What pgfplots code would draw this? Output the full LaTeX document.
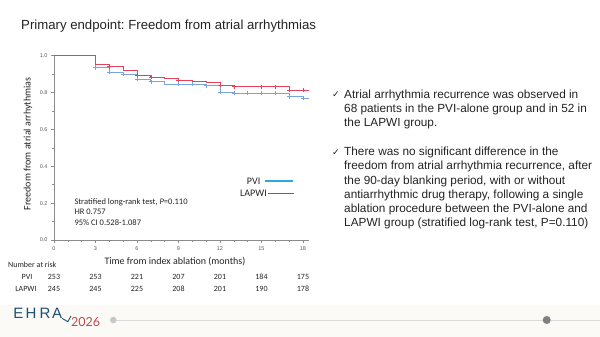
\documentclass[border=0pt]{standalone}
\usepackage{pgfplots}
\pgfplotsset{compat=1.18}
\usepackage{fontspec}
\setmainfont{Carlito}
\newfontfamily\arial{Liberation Sans}
\newfontfamily\dejavu{DejaVu Sans}
\newfontfamily\lato{Lato}
\frenchspacing
\definecolor{redc}{RGB}{232,64,90}
\definecolor{bluec}{RGB}{120,165,225}
\definecolor{legblue}{RGB}{41,170,226}
\definecolor{lapwiline}{RGB}{228,45,55}
\definecolor{axisgray}{RGB}{140,140,140}
\definecolor{ticklab}{RGB}{90,90,90}
\definecolor{txt}{RGB}{35,35,35}
\definecolor{footbg}{RGB}{251,250,247}
\definecolor{ehra}{RGB}{30,80,112}
\definecolor{ehrared}{RGB}{192,72,76}
\definecolor{lgray}{RGB}{218,218,218}
\definecolor{dotl}{RGB}{200,200,200}
\definecolor{dotd}{RGB}{128,128,128}
\begin{document}
\begin{tikzpicture}
\path[use as bounding box] (0,0) rectangle (600bp,337bp);
\fill[footbg] (0,0) rectangle (600bp,32bp);
% title
\node[anchor=base west, inner sep=0pt, text=txt, font=\arial\fontsize{13.2bp}{15bp}\selectfont] at (21bp,307.7bp) {Primary endpoint: Freedom from atrial arrhythmias};
\begin{axis}[
  at={(54bp,97bp)}, anchor=south west, scale only axis,
  width=254.5bp, height=184.3bp,
  xmin=0, xmax=18.4, ymin=0, ymax=1,
  axis x line*=bottom, axis y line*=left,
  axis line style={draw=axisgray, line width=0.5pt},
  xtick={0,3,6,9,12,15,18}, minor xtick={1,2,4,5,7,8,10,11,13,14,16,17},
  ytick={0,0.2,0.4,0.6,0.8,1}, minor ytick={0.1,0.3,0.5,0.7,0.9},
  tick align=outside, major tick length=3bp, minor tick length=2bp,
  every tick/.style={draw=axisgray, line width=0.5pt},
  ticklabel style={font=\arial\fontsize{5.5bp}{6bp}\selectfont, text=ticklab},
  /pgf/number format/assume math mode=true,
  yticklabel style={/pgf/number format/.cd, fixed, fixed zerofill, precision=1},
  clip=false,
]
\addplot[const plot, bluec, line width=0.8pt] coordinates {(0,1)(3,0.935)(4,0.910)(5,0.899)(6,0.872)(7,0.859)(8,0.846)(11,0.837)(12,0.801)(13,0.796)(17,0.778)(18,0.769)(18.4,0.769)};
\addplot[const plot, redc, line width=0.8pt] coordinates {(0,1)(3,0.953)(4,0.940)(5,0.922)(6,0.895)(7,0.883)(8,0.877)(9,0.868)(10,0.863)(11,0.855)(12,0.841)(13,0.832)(17,0.814)(18.4,0.814)};
\addplot[only marks, mark=+, mark size=2bp, bluec, line width=0.6pt] coordinates {(3,0.935)(4,0.910)(5,0.899)(6,0.872)(7,0.859)(9,0.846)(10,0.846)(11,0.837)(12,0.801)(13,0.796)(14,0.796)(15,0.796)(16,0.796)(17,0.778)(18,0.769)};
\addplot[only marks, mark=+, mark size=2bp, redc, line width=0.6pt] coordinates {(4,0.940)(6,0.895)(7,0.883)(9,0.868)(12,0.841)(13,0.832)(15,0.832)(16,0.832)(17,0.814)(18,0.814)};
\end{axis}
% legend text
\node[anchor=base east, inner sep=0pt, text=txt, font=\fontsize{10bp}{12bp}\selectfont] at (260.5bp,152.5bp) {PVI};
\node[anchor=base east, inner sep=0pt, text=txt, font=\fontsize{10bp}{12bp}\selectfont] at (267bp,140bp) {LAPWI};
% stats
\begin{scope}[every node/.style={anchor=base west, inner sep=0pt, text=txt, font=\fontsize{8.5bp}{10bp}\selectfont}]
\node at (74.3bp,132.2bp) {Stratified long-rank test, \textit{P}=0.110};
\node at (74.3bp,122.2bp) {HR 0.757};
\node at (74.3bp,111.2bp) {95\% CI 0.528-1.087};
\end{scope}
% axis titles
\node[anchor=base, inner sep=0pt, text=txt, font=\fontsize{10bp}{12bp}\selectfont] at (175bp,72bp) {Time from index ablation (months)};
\node[rotate=90, inner sep=0pt, text=txt, font=\fontsize{10bp}{12bp}\selectfont] at (28bp,193bp) {Freedom from atrial arrhythmias};
% number at risk
\begin{scope}[every node/.style={anchor=base, inner sep=0pt, text=txt, font=\fontsize{8bp}{10bp}\selectfont}]
\node[anchor=base west] at (8bp,69bp) {Number at risk};
\node at (27bp,57.5bp) {PVI};
\node at (26bp,45.5bp) {LAPWI};
\node at (54bp,57.5bp) {253}; \node at (95.5bp,57.5bp) {253}; \node at (137bp,57.5bp) {221};
\node at (178.5bp,57.5bp) {207}; \node at (220bp,57.5bp) {201}; \node at (261.5bp,57.5bp) {184}; \node at (303bp,57.5bp) {175};
\node at (54bp,45.5bp) {245}; \node at (95.5bp,45.5bp) {245}; \node at (137bp,45.5bp) {225};
\node at (178.5bp,45.5bp) {208}; \node at (220bp,45.5bp) {201}; \node at (261.5bp,45.5bp) {190}; \node at (303bp,45.5bp) {178};
\end{scope}
% right text
\node[anchor=base west, inner sep=0pt, text=txt, font=\dejavu\fontsize{9bp}{10bp}\selectfont] at (332bp,239bp) {✓};
\node[anchor=base west, inner sep=0pt, text=txt, font=\dejavu\fontsize{9bp}{10bp}\selectfont] at (332bp,181.3bp) {✓};
\node[anchor=north west, inner sep=0pt, text=txt, align=left, font=\arial\fontsize{11.8bp}{14.2bp}\selectfont] at (344bp,247.5bp) {Atrial arrhythmia recurrence was observed in\\68 patients in the PVI-alone group and in 52 in\\the LAPWI group.};
\node[anchor=north west, inner sep=0pt, text=txt, align=left, font=\arial\fontsize{11.8bp}{14.2bp}\selectfont] at (344bp,190.1bp) {There was no significant difference in the\\freedom from atrial arrhythmia recurrence, after\\the 90-day blanking period, with or without\\antiarrhythmic drug therapy, following a single\\ablation procedure between the PVI-alone and\\LAPWI group (stratified log-rank test, P=0.110)};
% footer
\draw[lgray, line width=0.8pt] (113bp,17bp) -- (600bp,17bp);
\fill[dotl] (113.3bp,17bp) circle (3.3bp);
\fill[dotd] (546.7bp,17bp) circle (4bp);
\begin{scope}[every node/.style={anchor=base west, inner sep=0pt, text=ehra, font=\arial\fontsize{15bp}{16bp}\selectfont}]
\node at (13.3bp,18.7bp) {E};
\node at (25.5bp,18.7bp) {H};
\node at (39.5bp,18.7bp) {R};
\node at (51.8bp,18.7bp) {A};
\end{scope}
\draw[ehra, line width=0.9pt] (62bp,18.7bp) -- (67.8bp,15.3bp) -- (71bp,21bp);
\node[anchor=base west, inner sep=0pt, text=ehrared, font=\lato\fontsize{12.5bp}{14bp}\selectfont] at (71bp,10.3bp) {2026};
% legend lines
\draw[draw=legblue, line width=1.4pt] (265bp,156bp) -- (293bp,156bp);
\draw[draw=lapwiline, line width=1.4pt] (268bp,143.5bp) -- (294bp,143.5bp);
\end{tikzpicture}
\end{document}
